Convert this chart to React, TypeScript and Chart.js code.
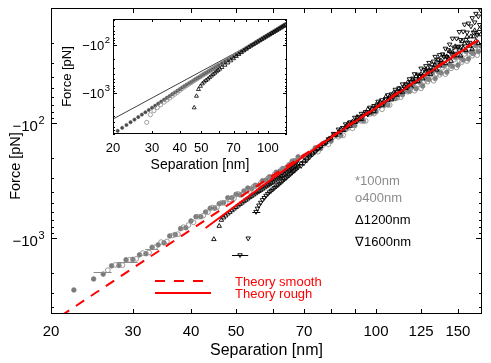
import React, { useEffect, useRef } from 'react';
import { Chart, registerables } from 'chart.js';
Chart.register(...registerables);

const FONT = '"Liberation Sans", Arial, Helvetica, sans-serif';

// ---------- main axes ----------
const mainXTicks = [20, 30, 40, 50, 60, 70, 80, 90, 100, 125, 150];
const mainXLabels = ['20', '30', '40', '50', '', '70', '', '', '100', '125', '150'];
const mainYMajor = [100, 1000];
const mainYExp = ['2', '3'];
const mainYMinor = [20, 30, 40, 50, 60, 70, 80, 90, 200, 300, 400, 500, 600, 700, 800, 900, 2000, 3000, 4000];

// ---------- theory curves (main) ----------
const smoothX = [21, 25, 30, 35, 40, 50, 60, 70, 85, 100, 125, 150, 166];
const smoothF = [4760, 2980, 1830, 1210, 846, 465, 285, 189, 112, 72.6, 40, 24.5, 18.7];
const roughX = [43, 50, 60, 70, 85, 100, 125, 150, 166];
const roughF = [818, 522, 303, 194, 114, 73.8, 40.6, 24.9, 19.0];

// ---------- measured data (main) ----------
const evenX = [70, 72, 74, 76, 78, 80, 82, 84, 86, 88, 90, 92, 94, 96, 98, 100, 102, 104, 106, 108, 110, 112, 114, 116, 118, 120, 122, 124, 126, 128, 130, 132, 134, 136, 138, 140, 142, 144, 146, 148, 150, 152, 154, 156, 158, 160, 162, 164, 166, 168];
const oddX = [69, 71, 73, 75, 77, 79, 81, 83, 85, 87, 89, 91, 93, 95, 97, 99, 101, 103, 105, 107, 109, 111, 113, 115, 117, 119, 121, 123, 125, 127, 129, 131, 133, 135, 137, 139, 141, 143, 145, 147, 149, 151, 153, 155, 157, 159, 161, 163, 165, 167];
const allX = [69, 70, 71, 72, 73, 74, 75, 76, 77, 78, 79, 80, 81, 82, 83, 84, 85, 86, 87, 88, 89, 90, 91, 92, 93, 94, 95, 96, 97, 98, 99, 100, 101, 102, 103, 104, 105, 106, 107, 108, 109, 110, 111, 112, 113, 114, 115, 116, 117, 118, 119, 120, 121, 122, 123, 124, 125, 126, 127, 128, 129, 130, 131, 132, 133, 134, 135, 136, 137, 138, 139, 140, 141, 142, 143, 144, 145, 146, 147, 148, 149, 150, 151, 152, 153, 154, 155, 156, 157, 158, 159, 160, 161, 162, 163, 164, 165, 166, 167, 168];

const m100LeftX = [22.4, 24.7, 25.9, 27, 28, 29, 30, 31, 32, 33, 34, 35, 36, 37, 38, 39, 40, 41, 42, 43, 44, 45, 46, 47, 48, 49, 50, 51, 52, 53, 54, 55, 56, 57, 58, 59, 60, 61, 62, 63, 64, 65, 66, 67, 68];
const m100LeftF = [2830, 2270, 2060, 1746, 1734, 1546, 1535, 1401, 1370, 1203, 1148, 1102, 960, 934, 829, 814, 711, 653, 653, 594, 551, 551, 503, 493, 447, 447, 417, 422, 390, 368, 373, 348, 348, 318, 314, 294, 293, 268, 265, 249, 246, 231, 215, 213, 197];
const m100DenseF = [194.7, 189, 164.6, 166.7, 146.6, 143.9, 126.1, 128.6, 114.2, 102.3, 105.1, 94.4, 96.1, 82.6, 82.1, 79.9, 71, 70.5, 69.6, 61.5, 61.4, 54.1, 56.7, 51.7, 53.1, 46.7, 50.3, 44.1, 47.7, 41.3, 41.8, 36.6, 41, 35.6, 36.7, 31.9, 36.1, 31.1, 32.1, 26.9, 31.4, 27.1, 28.3, 23.8, 27.7, 24.1, 24.9, 21.2, 23.9, 21.4];

const m400LeftX = [26.5, 27.5, 28.5, 29.5, 30.5, 31.5, 32.5, 33.5, 34.5, 35.5, 36.5, 37.5, 38.5, 39.5, 40.5, 41.5, 42.5, 43.5, 44.5, 45.5, 46.5, 47.5, 48.5, 49.5, 50.5, 51.5, 52.5, 53.5, 54.5, 55.5, 56.5, 57.5, 58.5, 59.5, 60.5, 61.5, 62.5, 63.5, 64.5, 65.5, 66.5, 67.5];
const m400LeftF = [1905, 1715, 1721, 1549, 1519, 1352, 1336, 1200, 1086, 1071, 952, 926, 806, 772, 730, 653, 639, 596, 543, 542, 495, 496, 461, 451, 414, 418, 394, 391, 358, 358, 334, 331, 304, 302, 281, 278, 256, 256, 240, 234, 214, 212];
const m400DenseF = [208.1, 201.8, 175.6, 177.4, 155.1, 153, 131.5, 131.6, 128, 110.8, 111.1, 96.3, 96.1, 95.8, 83.5, 82.8, 73.5, 75.8, 68.2, 69.7, 60.6, 60.4, 59.6, 52.9, 53.4, 49.2, 52.3, 45.9, 49.9, 43.3, 43.7, 38, 42.9, 37.4, 38.1, 33, 37.6, 32.6, 33.5, 28.2, 32.9, 28.7, 29.5, 25.1, 28.9, 25.2, 26, 22.3, 25.7, 22.4];

const m1200LeftX = [44.8, 46.0, 46.5, 47, 47.5, 48, 48.5, 49, 49.5, 50, 50.5, 51, 51.5, 52, 52.5, 53, 53.5, 54, 54.5, 55, 55.5, 56, 56.5, 57, 57.5, 58, 58.5, 59, 59.5, 60, 60.5, 61, 61.5, 62, 62.5, 63, 63.5, 64, 64.5, 65, 65.5, 66, 66.5, 67, 67.5, 68];
const m1200LeftF = [1026, 787, 697, 665, 640, 615, 595, 575, 557, 540, 524, 508, 494, 480, 467, 455, 443, 432, 421, 411, 401, 392, 383, 374, 365, 357, 349, 341, 333, 326, 318, 311, 304, 297, 290, 284, 277, 271, 265, 259, 253, 247, 241, 236, 230, 225];
const m1200DenseF = [226, 214, 204, 192.5, 184, 174.4, 166.4, 159.1, 152.2, 148, 139.3, 136, 126.4, 128.5, 120.8, 112.4, 115.7, 108.8, 101.3, 106.4, 97.2, 98.3, 88.8, 91.7, 92.6, 83.2, 83.3, 76.1, 81.2, 75.2, 79.1, 69.7, 71.4, 65.5, 69.8, 64.6, 59.2, 63.3, 58.8, 62.6, 54.8, 56.3, 57.1, 50.4, 51.8, 53.7, 47.9, 49.8, 44.4, 46.6, 48.3, 42.3, 44, 39.2, 43.4, 40, 37.5, 41.1, 37.2, 34.1, 37.8, 34.6, 37.7, 31.1, 33.8, 31.4, 34.5, 28.3, 31.8, 28.8, 29.7, 26, 30.3, 26.4, 27.1, 23.8, 28.9, 24.2, 25.9, 21.6, 25.9, 22.1, 23.1, 26, 19.5, 22.3, 20.4, 23.3, 17.8, 20.2, 21.4, 17.7, 22.7, 17.7, 15.7, 19.3, 16.7, 20.2, 15.3, 17];

const m1600LeftX = [51.0, 53.1, 55.2, 55.6, 56, 56.5, 57, 57.5, 58, 58.5, 59, 59.5, 60, 60.5, 61, 61.5, 62, 62.5, 63, 63.5, 64, 64.5, 65, 65.5, 66, 66.5, 67, 67.5, 68];
const m1600LeftF = [1406, 1006, 591, 553, 520, 492, 466, 447, 428, 413, 399, 388, 377, 366, 356, 346, 337, 327, 318, 309, 301, 293, 285, 277, 270, 263, 256, 249, 243];
const m1600DenseF = [235.6, 223, 210.9, 197.8, 187.4, 177.7, 168, 160.6, 150.7, 148, 138, 134.6, 123.9, 124.8, 113.6, 119.4, 110, 102.3, 107.6, 98.2, 99.2, 89.7, 96.3, 88.1, 82.9, 86.7, 80, 84.2, 73.3, 75.9, 70.9, 74.1, 65, 67.5, 63.1, 67.3, 61.8, 57.1, 60.6, 56.1, 59.4, 51.2, 53.3, 49.8, 53.3, 46, 48.9, 45.9, 48.2, 41.5, 43.8, 40.9, 37.5, 42.6, 37.9, 38.8, 33.5, 38.7, 34.5, 31.9, 35.2, 29.9, 32.7, 34.8, 29.1, 26.5, 30.9, 28, 25.6, 30, 25.2, 26.6, 22.5, 26.7, 23.2, 20.7, 24.7, 18.4, 22, 24.9, 18.4, 21.6, 16.1, 18.9, 21.6, 16, 13.9, 18.9, 16.3, 13.6, 20, 14.4, 12.2, 16.3, 13.3, 11.2, 17.1, 11.8, 14, 10.5];

// horizontal error bars
const grayErrLo = [24.7, 27.7, 31.9];
const grayErrHi = [27.0, 30.7, 34.0];
const grayErrF = [1964, 1620, 1240];
const blackErrLo = [49.0, 54.2];
const blackErrHi = [53.1, 56.4];
const blackErrF = [1406, 591];

// legends
const theoryLabels = ['Theory smooth', 'Theory rough'];
const symbolLabels = ['*100nm', 'o400nm', '\u03941200nm', '\u22071600nm'];
const symbolColors = ['#8c8c8c', '#8c8c8c', '#000000', '#000000'];

// ---------- inset ----------
const inXTicks = [20, 30, 40, 50, 60, 70, 80, 90, 100];
const inXLabels = ['20', '30', '40', '50', '', '70', '', '', '100'];
const inYMajor = [100, 1000];
const inYMinor = [30, 40, 50, 60, 70, 80, 90, 200, 300, 400, 500, 600, 700, 800, 900, 2000, 3000, 4000, 5000, 6000, 7000];

const inLineX = [20, 122];
const inLineF = [3490, 38.3];

const in100X = [20, 21, 22, 23, 24, 25, 26, 27, 28, 29, 30, 31, 32, 33, 34, 35, 36, 37, 38, 39, 40, 41, 42, 43, 44, 45, 46, 47, 48, 49, 50, 51, 52, 53, 54, 55, 56, 57, 58, 59, 60, 62, 64, 66, 68, 70, 72, 74, 76, 78, 80, 82, 84, 86, 88, 90, 92, 94, 96, 98, 100, 102, 104, 106, 108, 110, 112, 114, 116, 118, 120];
const in100F = [7145, 6140, 5320, 4640, 4060, 3580, 3170, 2820, 2520, 2260, 2030, 1840, 1660, 1510, 1380, 1260, 1160, 1060, 977, 902, 834, 771, 716, 670, 628, 590, 555, 522, 492, 465, 439, 415, 393, 373, 353, 336, 319, 304, 289, 276, 263, 240, 219, 201, 185, 171, 157, 146, 135, 126, 117, 109, 102, 95.5, 89.5, 84.1, 79.1, 74.3, 70.1, 66.2, 62.5, 59.2, 56, 53.1, 50.4, 47.9, 45.5, 43.3, 41.2, 39.3, 37.5];

const in400X = [28.4, 29.5, 30.6, 31.7, 32.8, 34, 35, 36, 37, 38, 39, 40, 41, 42, 43, 44, 45, 46, 47, 48, 49, 50, 51, 52, 53, 54, 55, 56, 57, 58, 59, 60, 62, 64, 66, 68, 70, 72, 74, 76, 78, 80, 82, 84, 86, 88, 90, 92, 94, 96, 98, 100, 102, 104, 106, 108, 110, 112, 114, 116, 118, 120];
const in400F = [4100, 2825, 2331, 2005, 1758, 1546, 1399, 1276, 1155, 1055, 965, 884, 810, 748, 697, 650, 608, 569, 532, 502, 472, 446, 419, 397, 377, 357, 339, 321, 306, 291, 277, 264, 241, 220, 202, 186, 172, 158, 147, 136, 126.5, 117.5, 109.5, 102.5, 96, 90, 84.5, 79.5, 74.6, 70.4, 66.5, 62.8, 59.4, 56.2, 53.3, 50.6, 48.1, 45.7, 43.5, 41.4, 39.5, 37.7];

const in1200X = [46.5, 47.6, 48.6, 49.6, 50.6, 51.6, 52.6, 53.6, 54.6, 55.6, 56.6, 57.6, 58.6, 59.6, 60.6, 62, 64, 66, 68, 70, 72, 74, 76, 78, 80, 82, 84, 86, 88, 90, 92, 94, 96, 98, 100, 102, 104, 106, 108, 110, 112, 114, 116, 118, 120];
const in1200F = [2020, 1160, 840, 720, 640, 585, 545, 510, 475, 440, 410, 383, 358, 336, 316, 292, 262, 235, 212, 192, 172, 156, 143, 131, 121, 111.5, 104, 97.5, 91.3, 85.8, 80.7, 75.8, 71.5, 67.5, 63.8, 60.4, 57.1, 54.2, 51.4, 48.9, 46.4, 44.2, 42, 40.1, 38.3];

// ---------- helpers ----------
const pts = (xs: number[], fs: number[]) => xs.map((x, i) => ({ x, y: fs[i] }));

function drawFrameAndTicks(ctx: CanvasRenderingContext2D, a: any, sx: any, sy: any, xTicks: number[], yMajor: number[], yMinor: number[], lx: number, lyMaj: number, lyMin: number) {
  ctx.save();
  ctx.strokeStyle = '#000';
  ctx.lineWidth = 1;
  ctx.strokeRect(a.left + 0.5, a.top + 0.5, a.right - a.left - 1, a.bottom - a.top - 1);
  ctx.beginPath();
  for (const v of xTicks) {
    const p = Math.round(sx.getPixelForValue(v)) + 0.5;
    ctx.moveTo(p, a.bottom); ctx.lineTo(p, a.bottom - lx);
    ctx.moveTo(p, a.top); ctx.lineTo(p, a.top + lx);
  }
  const yt = (v: number, l: number) => {
    const p = Math.round(sy.getPixelForValue(v)) + 0.5;
    ctx.moveTo(a.left, p); ctx.lineTo(a.left + l, p);
    ctx.moveTo(a.right, p); ctx.lineTo(a.right - l, p);
  };
  yMajor.forEach((v) => yt(v, lyMaj));
  yMinor.forEach((v) => yt(v, lyMin));
  ctx.stroke();
  ctx.restore();
}

function drawPow(ctx: CanvasRenderingContext2D, rightX: number, baseY: number, supDy: number, big: number, small: number, exp: string) {
  ctx.textAlign = 'right';
  ctx.textBaseline = 'alphabetic';
  ctx.font = `${small}px ${FONT}`;
  const w = ctx.measureText(exp).width;
  ctx.fillText(exp, rightX, baseY + supDy);
  ctx.font = `${big}px ${FONT}`;
  ctx.fillText('\u221210', rightX - w - 0.5, baseY);
}

const mainDecor = {
  id: 'mainDecor',
  beforeDraw(chart: any) {
    const { ctx, width, height } = chart;
    ctx.save();
    ctx.fillStyle = '#fff';
    ctx.fillRect(0, 0, width, height);
    ctx.restore();
  },
  afterDatasetsDraw(chart: any) {
    const { ctx, chartArea: a, scales } = chart;
    const sx = scales.x, sy = scales.y;
    ctx.save();
    ctx.beginPath();
    ctx.rect(a.left, a.top, a.right - a.left, a.bottom - a.top);
    ctx.clip();
    ctx.lineWidth = 1;
    ctx.strokeStyle = '#8a8a8a';
    grayErrF.forEach((f, i) => {
      const y = Math.round(sy.getPixelForValue(f)) + 0.5;
      ctx.beginPath();
      ctx.moveTo(sx.getPixelForValue(grayErrLo[i]), y);
      ctx.lineTo(sx.getPixelForValue(grayErrHi[i]), y);
      ctx.stroke();
    });
    ctx.strokeStyle = '#000';
    blackErrF.forEach((f, i) => {
      const y = Math.round(sy.getPixelForValue(f)) + 0.5;
      ctx.beginPath();
      ctx.moveTo(sx.getPixelForValue(blackErrLo[i]), y);
      ctx.lineTo(sx.getPixelForValue(blackErrHi[i]), y);
      ctx.stroke();
    });
    ctx.restore();
  },
  afterDraw(chart: any) {
    const { ctx, chartArea: a, scales } = chart;
    const sx = scales.x, sy = scales.y;
    drawFrameAndTicks(ctx, a, sx, sy, mainXTicks, mainYMajor, mainYMinor, 5, 6, 3);
    ctx.save();
    ctx.fillStyle = '#000';
    ctx.font = `15px ${FONT}`;
    ctx.textAlign = 'center';
    ctx.textBaseline = 'alphabetic';
    mainXTicks.forEach((v, i) => {
      if (mainXLabels[i]) ctx.fillText(mainXLabels[i], sx.getPixelForValue(v), a.bottom + 22);
    });
    mainYMajor.forEach((v, i) => {
      const p = sy.getPixelForValue(v);
      drawPow(ctx, a.left - 6.5, p + 8, -7.5, 15, 11, mainYExp[i]);
    });
    ctx.textAlign = 'center';
    ctx.font = `16px ${FONT}`;
    ctx.fillText('Separation [nm]', (a.left + a.right) / 2, a.bottom + 41);
    ctx.save();
    ctx.translate(19.5, (a.top + a.bottom) / 2 + 5);
    ctx.rotate(-Math.PI / 2);
    ctx.font = `14.5px ${FONT}`;
    ctx.fillText('Force [pN]', 0, 0);
    ctx.restore();
    // theory legend
    ctx.strokeStyle = '#ff0000';
    ctx.lineWidth = 2;
    ctx.setLineDash([10, 9]);
    ctx.beginPath(); ctx.moveTo(155, 281); ctx.lineTo(206, 281); ctx.stroke();
    ctx.setLineDash([]);
    ctx.beginPath(); ctx.moveTo(155, 293); ctx.lineTo(211, 293); ctx.stroke();
    ctx.fillStyle = '#ff0000';
    ctx.font = `13px ${FONT}`;
    ctx.textAlign = 'left';
    ctx.fillText(theoryLabels[0], 235, 285.5);
    ctx.fillText(theoryLabels[1], 235, 298);
    const ly = [184.5, 201.5, 223.5, 245.5];
    symbolLabels.forEach((t, i) => {
      ctx.fillStyle = symbolColors[i];
      ctx.fillText(t, 355, ly[i]);
    });
    ctx.restore();
  },
};

const insetDecor = {
  id: 'insetDecor',
  beforeDatasetsDraw(chart: any) {
    const { ctx, chartArea: a } = chart;
    ctx.save();
    ctx.fillStyle = '#fff';
    ctx.fillRect(a.left, a.top, a.right - a.left, a.bottom - a.top);
    ctx.restore();
  },
  afterDraw(chart: any) {
    const { ctx, chartArea: a, scales } = chart;
    const sx = scales.x, sy = scales.y;
    drawFrameAndTicks(ctx, a, sx, sy, inXTicks, inYMajor, inYMinor, 3, 4, 2);
    ctx.save();
    ctx.fillStyle = '#000';
    ctx.font = `13px ${FONT}`;
    ctx.textAlign = 'center';
    ctx.textBaseline = 'alphabetic';
    inXTicks.forEach((v, i) => {
      if (inXLabels[i]) ctx.fillText(inXLabels[i], sx.getPixelForValue(v), a.bottom + 17.5);
    });
    inYMajor.forEach((v, i) => {
      const p = sy.getPixelForValue(v);
      drawPow(ctx, a.left - 3, p + 5, -7.3, 13, 9.5, mainYExp[i]);
    });
    ctx.textAlign = 'center';
    ctx.font = `14px ${FONT}`;
    ctx.fillText('Separation [nm]', (a.left + a.right) / 2, a.bottom + 34.5);
    ctx.save();
    ctx.translate(15.5, (a.top + a.bottom) / 2);
    ctx.rotate(-Math.PI / 2);
    ctx.font = `13px ${FONT}`;
    ctx.fillText('Force [pN]', 0, 0);
    ctx.restore();
    ctx.restore();
  },
};

const TRANSPARENT = 'rgba(0,0,0,0)';

function mainConfig(): any {
  return {
    type: 'scatter',
    data: {
      datasets: [
        { label: 'Theory smooth', data: pts(smoothX, smoothF), showLine: true, borderColor: '#ff0000', borderWidth: 2, borderDash: [10, 8], pointRadius: 0, clip: 0 },
        { label: 'Theory rough', data: pts(roughX, roughF), showLine: true, borderColor: '#ff0000', borderWidth: 2, pointRadius: 0, clip: 0 },
        { label: '1600nm', data: pts([...m1600LeftX, ...allX], [...m1600LeftF, ...m1600DenseF]), pointStyle: 'triangle', pointRotation: 180, pointRadius: 2.6, pointBorderColor: '#000', pointBorderWidth: 0.9, pointBackgroundColor: TRANSPARENT },
        { label: '1200nm', data: pts([...m1200LeftX, ...allX], [...m1200LeftF, ...m1200DenseF]), pointStyle: 'triangle', pointRadius: 2.6, pointBorderColor: '#000', pointBorderWidth: 0.9, pointBackgroundColor: TRANSPARENT },
        { label: '400nm', data: pts([...m400LeftX, ...oddX], [...m400LeftF, ...m400DenseF]), pointStyle: 'circle', pointRadius: 2.4, pointBorderColor: '#8f8f8f', pointBorderWidth: 0.9, pointBackgroundColor: TRANSPARENT },
        { label: '100nm', data: pts([...m100LeftX, ...evenX], [...m100LeftF, ...m100DenseF]), pointStyle: 'circle', pointRadius: 2.3, pointBorderColor: '#7a7a7a', pointBorderWidth: 0.8, pointBackgroundColor: '#7a7a7a' },
      ],
    },
    options: {
      animation: false,
      responsive: false,
      devicePixelRatio: 1,
      events: [],
      plugins: { legend: { display: false }, tooltip: { enabled: false } },
      layout: { padding: { top: 8, right: 9, left: 0, bottom: 0 } },
      scales: {
        x: {
          type: 'logarithmic', min: 20, max: 169,
          grid: { display: false, drawTicks: false }, border: { display: false }, ticks: { display: false },
          afterFit: (s: any) => { s.height = 49; },
        },
        y: {
          type: 'logarithmic', reverse: true, min: 10, max: 4580,
          grid: { display: false, drawTicks: false }, border: { display: false }, ticks: { display: false },
          afterFit: (s: any) => { s.width = 51; },
        },
      },
    },
    plugins: [mainDecor],
  };
}

function insetConfig(): any {
  return {
    type: 'scatter',
    data: {
      datasets: [
        { label: '1200nm', data: pts(in1200X, in1200F), pointStyle: 'triangle', pointRadius: 2.3, pointBorderColor: '#000', pointBorderWidth: 0.8, pointBackgroundColor: TRANSPARENT, clip: 0 },
        { label: '400nm', data: pts(in400X, in400F), pointStyle: 'circle', pointRadius: 2.1, pointBorderColor: '#8a8a8a', pointBorderWidth: 0.8, pointBackgroundColor: TRANSPARENT, clip: 0 },
        { label: '100nm', data: pts(in100X, in100F), pointStyle: 'circle', pointRadius: 1.6, pointBorderColor: '#4a4a4a', pointBorderWidth: 0.6, pointBackgroundColor: '#4a4a4a', clip: 0 },
        { label: 'theory', data: pts(inLineX, inLineF), showLine: true, borderColor: '#404040', borderWidth: 1, pointRadius: 0, clip: 0 },
      ],
    },
    options: {
      animation: false,
      responsive: false,
      devicePixelRatio: 1,
      events: [],
      plugins: { legend: { display: false }, tooltip: { enabled: false } },
      layout: { padding: { top: 7, right: 5, left: 0, bottom: 0 } },
      scales: {
        x: {
          type: 'logarithmic', min: 20, max: 122,
          grid: { display: false, drawTicks: false }, border: { display: false }, ticks: { display: false },
          afterFit: (s: any) => { s.height = 41; },
        },
        y: {
          type: 'logarithmic', reverse: true, min: 28.7, max: 7150,
          grid: { display: false, drawTicks: false }, border: { display: false }, ticks: { display: false },
          afterFit: (s: any) => { s.width = 58; },
        },
      },
    },
    plugins: [insetDecor],
  };
}

export default function App() {
  const mainRef = useRef<HTMLCanvasElement>(null);
  const insetRef = useRef<HTMLCanvasElement>(null);
  useEffect(() => {
    const c1 = new Chart(mainRef.current as HTMLCanvasElement, mainConfig());
    const c2 = new Chart(insetRef.current as HTMLCanvasElement, insetConfig());
    return () => {
      c1.destroy();
      c2.destroy();
    };
  }, []);
  return (
    <div style={{ position: 'fixed', left: 0, top: 0, width: 491, height: 363, background: '#fff', overflow: 'hidden' }}>
      <canvas ref={mainRef} width={491} height={363} style={{ position: 'absolute', left: 0, top: 0, width: 491, height: 363 }} />
      <canvas ref={insetRef} width={237} height={163} style={{ position: 'absolute', left: 55, top: 12, width: 237, height: 163 }} />
    </div>
  );
}
